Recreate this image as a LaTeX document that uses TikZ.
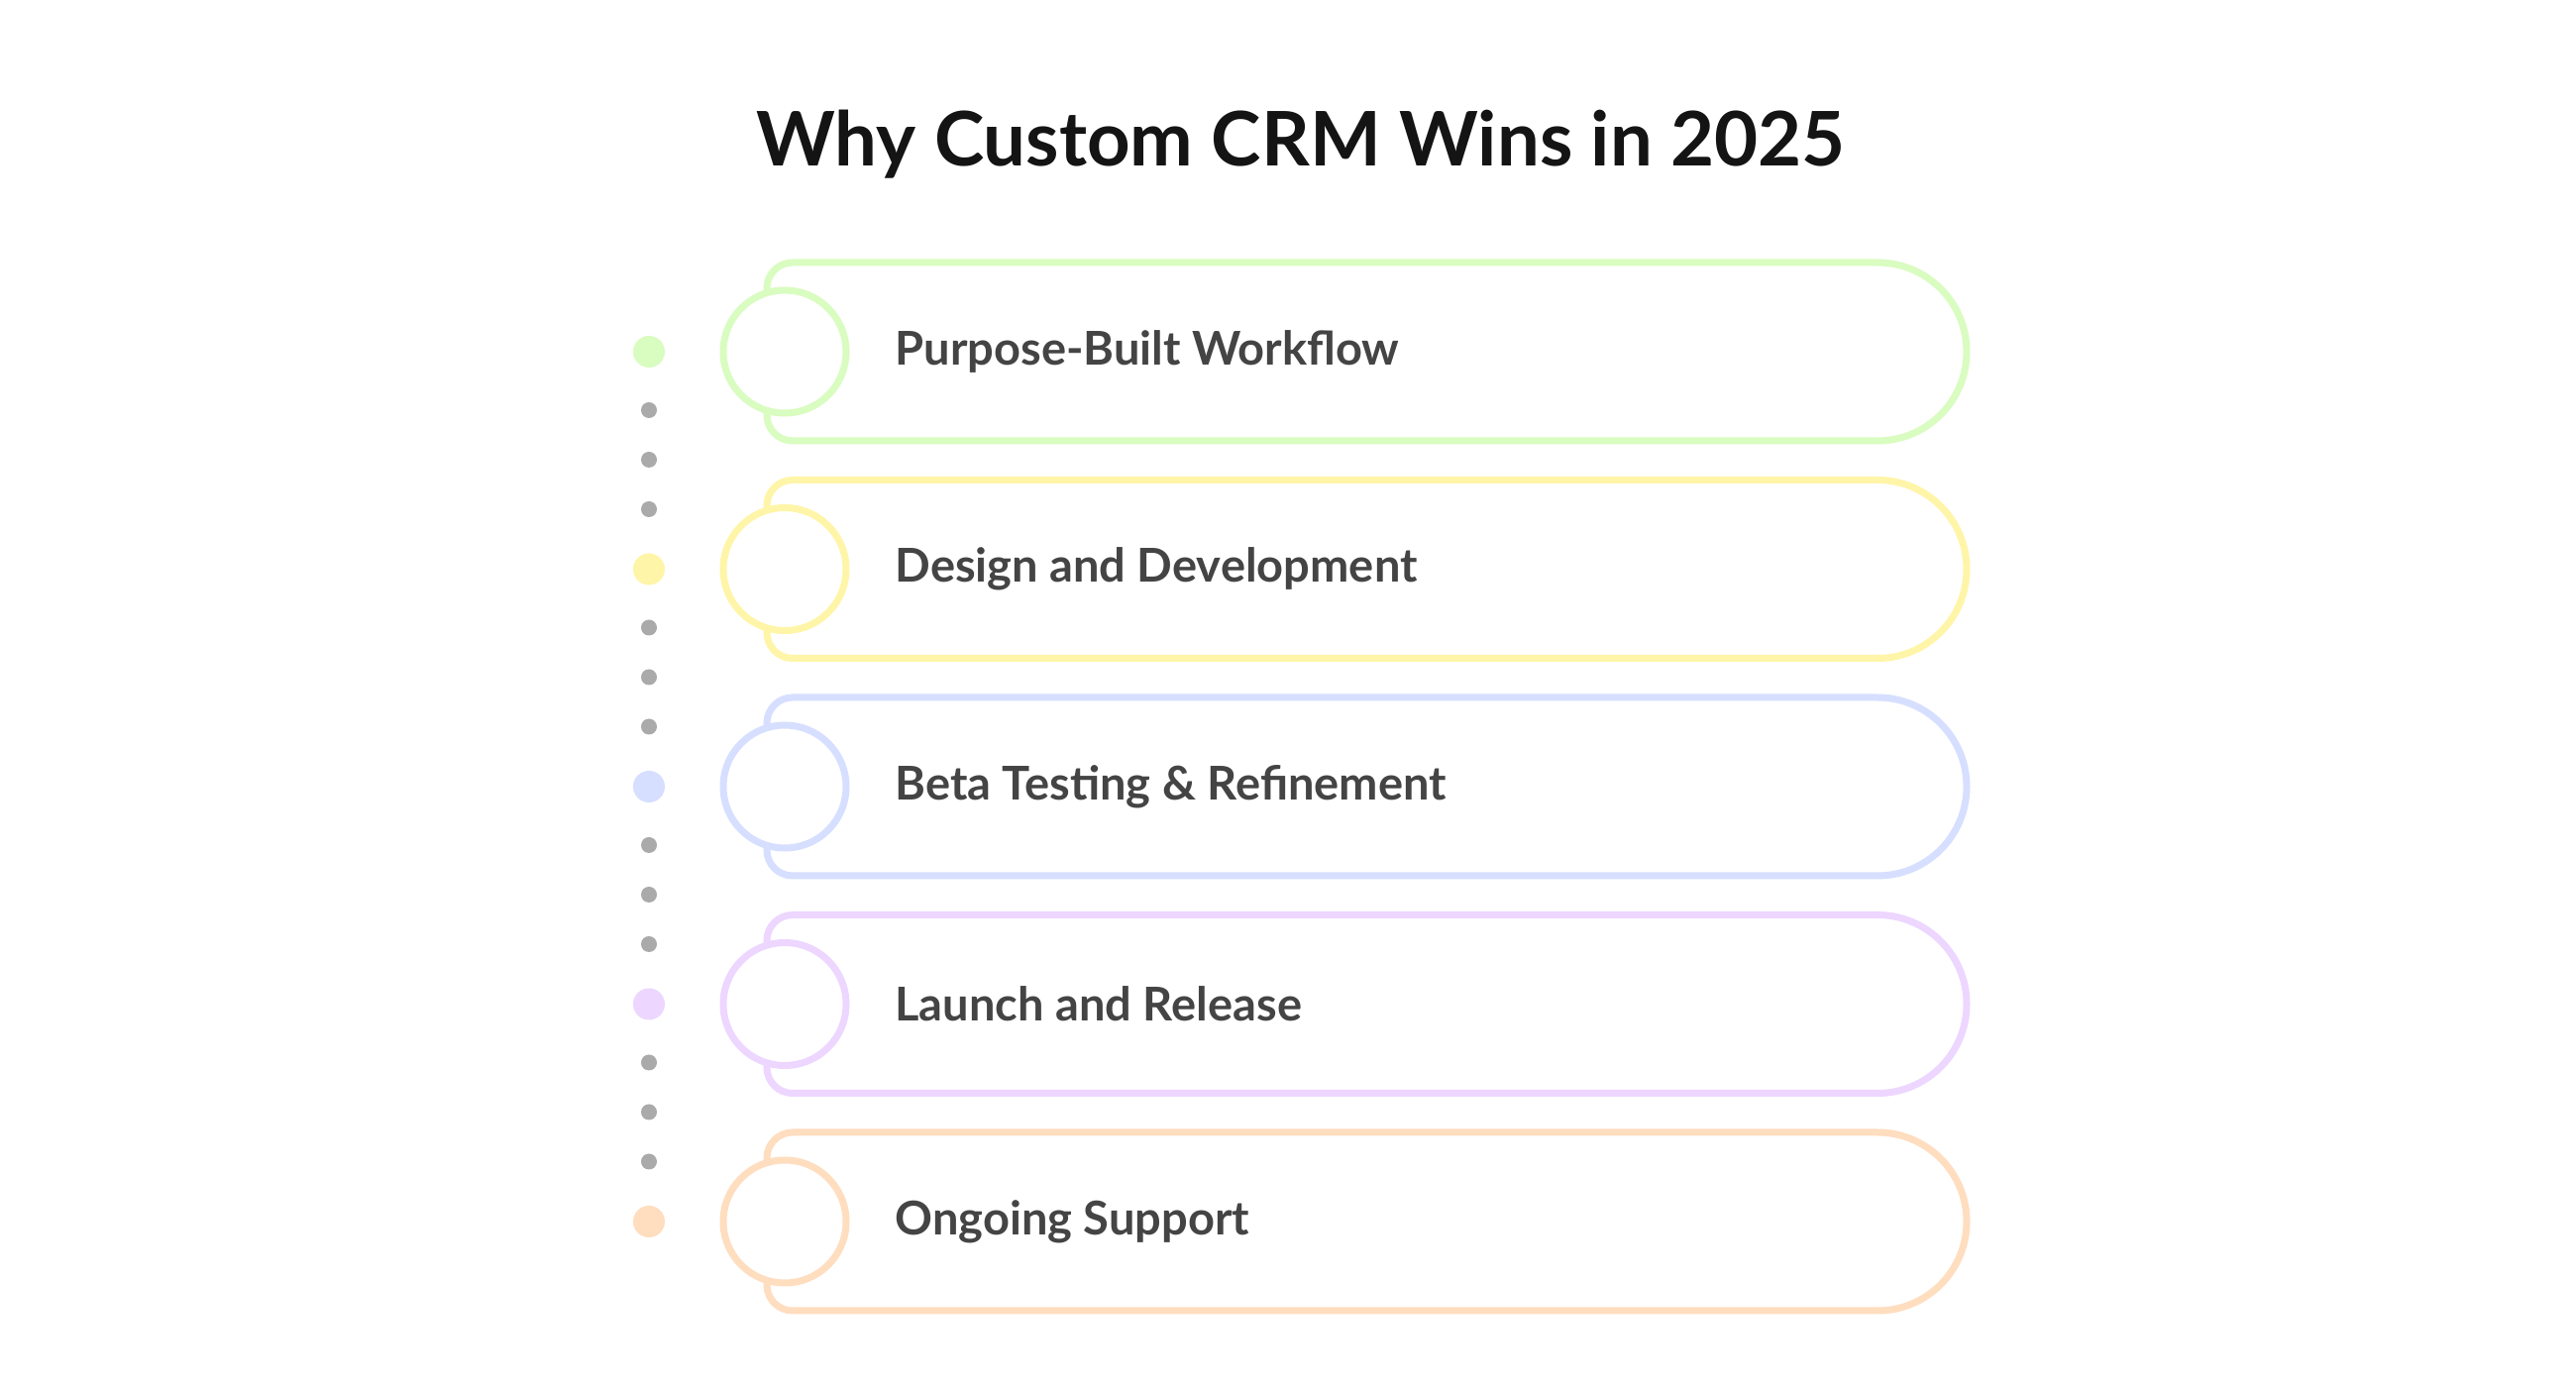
\documentclass[tikz,border=0pt]{standalone}
\usepackage{fontspec}
\setmainfont{Lato}
\definecolor{cA}{HTML}{D9FCC0}
\definecolor{cB}{HTML}{FFF5A8}
\definecolor{cC}{HTML}{D6DFFF}
\definecolor{cD}{HTML}{EDD6FF}
\definecolor{cE}{HTML}{FFDDBF}
\definecolor{txt}{HTML}{444444}
\definecolor{dotg}{HTML}{AAAAAA}
\tikzset{lbl/.style={anchor=west,text=txt,font=\fontsize{47}{50}\selectfont\bfseries},
 ttl/.style={text=black!92,font=\fontsize{76}{80}\selectfont\bfseries}}
\begin{document}
\begin{tikzpicture}[x=1pt,y=1pt]
\fill[white] (0,0) rectangle (2600,1400);
\node[ttl] (title) at (1313,1254) {Why Custom CRM Wins in 2025};
\foreach \i/\c/\t in {0/cA/Purpose-Built Workflow,1/cB/Design and Development,2/cC/Beta Testing \& Refinement,3/cD/Launch and Release,4/cE/Ongoing Support}{
  \pgfmathsetmacro{\yy}{1400-355-219.5*\i}
  \draw[\c,line width=7pt,fill=white] (1895,\yy+90) arc[start angle=90,end angle=-90,radius=90] -- (800,\yy-90) arc[start angle=-90,end angle=-180,radius=26] -- (774,\yy+64) arc[start angle=180,end angle=90,radius=26] -- cycle;
  \draw[\c,line width=7pt,fill=white] (792,\yy) circle[radius=62];
  \node[lbl] (l\i) at (900,\yy) {\t};
  \fill[\c] (655,\yy) circle[radius=16];
  \ifnum\i<4
    \foreach \k in {1,2,3}{\fill[dotg] (655,\yy-9-50*\k) circle[radius=8];}
  \fi
}
\end{tikzpicture}
\end{document}
